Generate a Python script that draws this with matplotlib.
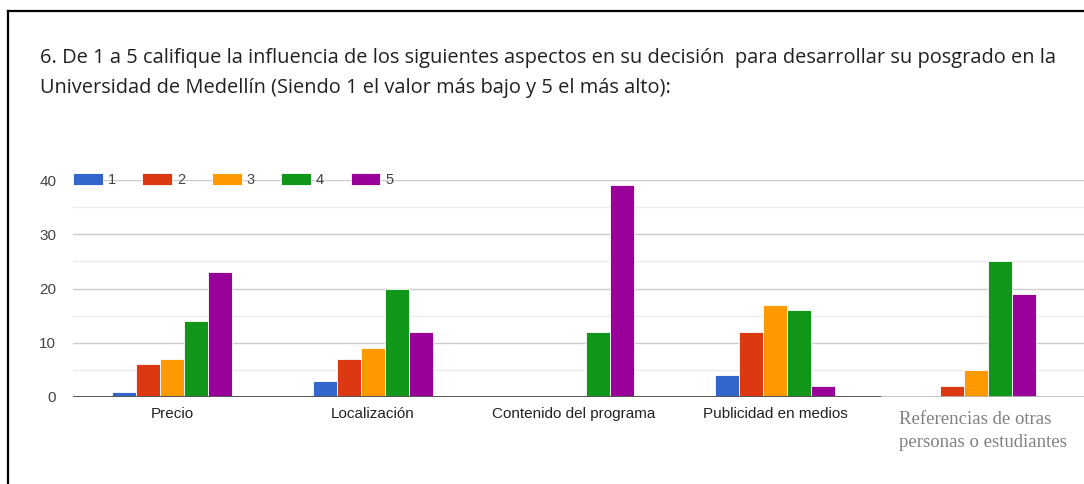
import numpy as np
import matplotlib
matplotlib.use("Agg")
import matplotlib.pyplot as plt
from matplotlib.lines import Line2D

# data
categories = ["Precio", "Localización", "Contenido del programa",
              "Publicidad en medios", "Referencias de otras\npersonas o estudiantes"]
series = ["1", "2", "3", "4", "5"]
v1 = [1, 3, 0, 4, 0]
v2 = [6, 7, 0, 12, 2]
v3 = [7, 9, 0, 17, 5]
v4 = [14, 20, 12, 16, 25]
v5 = [23, 12, 39, 2, 19]
colors = ["#3366CC", "#DC3912", "#FF9900", "#109618", "#990099"]
yticks = [0, 10, 20, 30, 40]

title1 = "6. De 1 a 5 califique la influencia de los siguientes aspectos en su decisión  para desarrollar su posgrado en la"
title2 = "Universidad de Medellín (Siendo 1 el valor más bajo y 5 el más alto):"

W, H = 1084, 484
fig = plt.figure(figsize=(W / 100, H / 100), dpi=100)
plt.rcParams['font.family'] = ['Liberation Sans', 'DejaVu Sans']

ax = fig.add_axes([73 / W, (H - 397) / H, (W - 73) / W, 217 / H])

x = np.arange(len(categories))
w = 0.12
vals = [v1, v2, v3, v4, v5]
for j, (s, v, c) in enumerate(zip(series, vals, colors)):
    ax.bar(x + (j - 2) * w, v, w, color=c, edgecolor="white", linewidth=0.6,
           label=s, zorder=3)

ax.set_ylim(0, 40)
ax.set_xlim(-0.4925, 4.537)
ax.set_yticks(yticks)
ax.set_yticks([5, 15, 25, 35], minor=True)
ax.yaxis.grid(True, which="major", color="#cccccc", linewidth=1.0, zorder=0)
ax.yaxis.grid(True, which="minor", color="#ebebeb", linewidth=1.0, zorder=0)
ax.tick_params(axis="y", which="both", length=0, pad=12, labelsize=11, labelcolor="#444444")
ax.tick_params(axis="x", length=0, pad=7, labelsize=11, labelcolor="#222222")
for sp in ax.spines.values():
    sp.set_visible(False)

# baseline: dark up to Publicidad, lighter after
ax.axhline(0, color="#bbbbbb", linewidth=1.2, zorder=4)
ax.axhline(0, xmin=0, xmax=0.798, color="#555555", linewidth=1.4, zorder=4)

ax.set_xticks(x)
ax.set_xticklabels(categories[:-1] + [""])
# last label looks pasted in, serif and grey
ax.annotate(categories[-1], xy=(x[-1], 0), xycoords=("data", "axes fraction"),
            xytext=(5, -10), textcoords="offset points", ha="center", va="top",
            family=["Liberation Serif", "DejaVu Serif"], fontsize=13.5,
            color="#808080", multialignment="left", linespacing=1.45)

leg = ax.legend(loc="center left", bbox_to_anchor=(0, 1), frameon=False,
                ncol=5, borderaxespad=0, borderpad=0, fontsize=10.5,
                handlelength=2.05, handleheight=0.9, handletextpad=0.35,
                columnspacing=1.8)
for t in leg.get_texts():
    t.set_color("#444444")

fig.text(40 / W, 1 - 63 / H, title1, fontsize=14.4, color="#202124",
         family=["Open Sans", "DejaVu Sans"], va="baseline")
fig.text(40 / W, 1 - 93 / H, title2, fontsize=14.4, color="#202124",
         family=["Open Sans", "DejaVu Sans"], va="baseline")

# black frame of the screenshot
fig.add_artist(Line2D([8 / W, 1], [1 - 11 / H, 1 - 11 / H], color="black", linewidth=1.6))
fig.add_artist(Line2D([8 / W, 8 / W], [0, 1 - 11 / H], color="black", linewidth=1.6))

fig.savefig("out.png", dpi=100)
